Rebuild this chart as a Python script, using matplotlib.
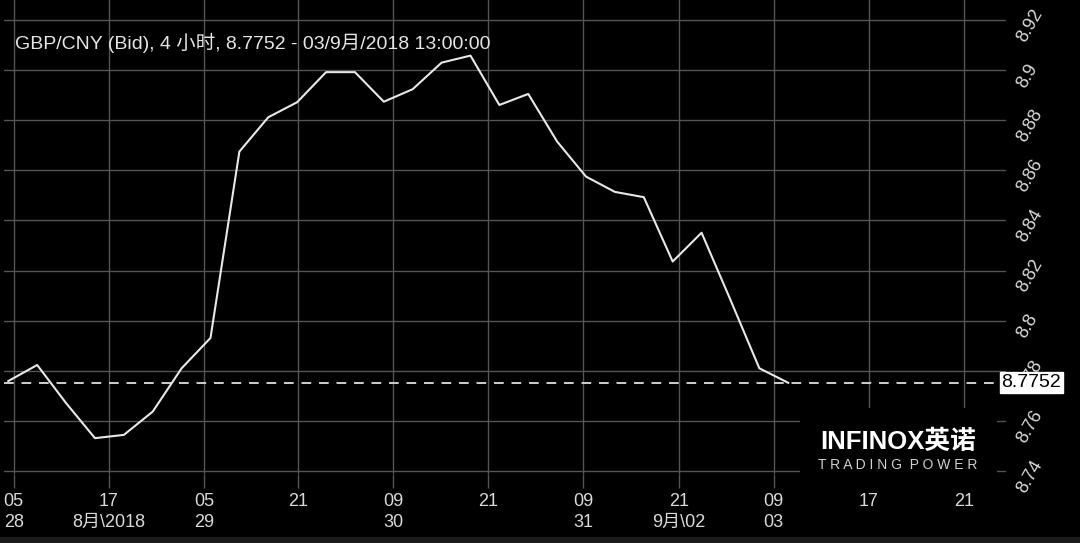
import matplotlib
matplotlib.use("Agg")
import matplotlib.pyplot as plt
import matplotlib.transforms as mtransforms
from matplotlib.patches import Rectangle

plt.rcParams['font.family'] = ['Liberation Sans', 'Noto Sans CJK SC', 'DejaVu Sans']

# GBP/CNY bid, 4 hour bars
bid = [8.7759, 8.7823, 8.7671, 8.7531, 8.7544, 8.7637, 8.7810, 8.7931,
       8.8675, 8.8812, 8.8872, 8.8992, 8.8992, 8.8874, 8.8924, 8.9030,
       8.9058, 8.8861, 8.8905, 8.8715, 8.8575, 8.8514, 8.8493, 8.8236,
       8.8351, 8.8083, 8.7810, 8.7752]
last_bid = 8.7752

# x ticks, in bar units
xtick_pos = [0.19, 3.48, 6.77, 10.04, 13.33, 16.62, 19.91, 23.21, 26.50, 29.79, 33.08]
xtick_labels = ["05\n28", "17\n8月\\2018", "05\n29", "21\n", "09\n30", "21\n",
                "09\n31", "21\n9月\\02", "09\n03", "17\n", "21\n"]
ytick_pos = [8.74, 8.76, 8.78, 8.80, 8.82, 8.84, 8.86, 8.88, 8.90, 8.92]
ytick_labels = ["8.74", "8.76", "8.78", "8.8", "8.82", "8.84", "8.86", "8.88", "8.9", "8.92"]

title = "GBP/CNY (Bid), 4 小时, 8.7752 - 03/9月/2018 13:00:00"

txt = '#d9d9d9'
grid = '#555555'

fig = plt.figure(figsize=(10.8, 5.43), dpi=100, facecolor='black')
ax = fig.add_axes([0.0037, 0.1271, 0.9278, 0.8729])
ax.set_facecolor('black')

ax.plot(range(len(bid)), bid, color='#e8e8e8', lw=1.5, zorder=3)
ax.axhline(last_bid, color='#cfcfcf', lw=1.4, ls=(0, (5, 4)), zorder=2)

ax.set_xlim(-0.149, 34.54)
ax.set_ylim(8.7388, 8.928)

ax.set_xticks(xtick_pos)
ax.set_xticklabels(xtick_labels, linespacing=1.3)
ax.set_yticks(ytick_pos)
ax.set_yticklabels(ytick_labels)
ax.yaxis.tick_right()
ax.grid(True, color=grid, lw=1.0)
ax.set_axisbelow(True)
for s in ax.spines.values():
    s.set_visible(False)

ax.tick_params(axis='x', colors=grid, labelcolor=txt, labelsize=13, length=10, width=1, pad=4)
ax.tick_params(axis='y', length=0, labelcolor=txt, labelsize=13, pad=6)
for lab in ax.get_yticklabels():
    lab.set_rotation(60)
    lab.set_ha('left')
    lab.set_va('center')
    lab.set_transform(lab.get_transform() + mtransforms.ScaledTranslation(0, -4 / 72, fig.dpi_scale_trans))

ax.text(0.011, 0.909, title, transform=ax.transAxes, color='#e6e6e6',
        fontsize=14, ha='left', va='center')

# last price box
tr = mtransforms.blended_transform_factory(ax.transAxes, ax.transData)
ax.text(0.9955, last_bid, "8.7752", transform=tr, color='black', fontsize=14,
        ha='left', va='center', clip_on=False, zorder=10,
        bbox=dict(boxstyle='square,pad=0.1', fc='white', ec='white'))

# logo block
fig.patches.append(Rectangle((0.7407, 0.0995), 0.1824, 0.149, transform=fig.transFigure,
                             facecolor='black', edgecolor='none', zorder=5))
fig.text(0.8315, 0.1865, "INFINOX英诺", color='white', fontsize=18.5, fontweight='bold',
         ha='center', va='center', zorder=6)
fig.text(0.8315, 0.1435, "T R A D I N G  P O W E R", color='#cfcfcf', fontsize=10,
         ha='center', va='center', zorder=6)

# bottom strip
fig.patches.append(Rectangle((0, 0), 1, 0.011, transform=fig.transFigure,
                             facecolor='#1b1b1b', edgecolor='none', zorder=5))

fig.savefig("out.png", dpi=100, facecolor='black')
